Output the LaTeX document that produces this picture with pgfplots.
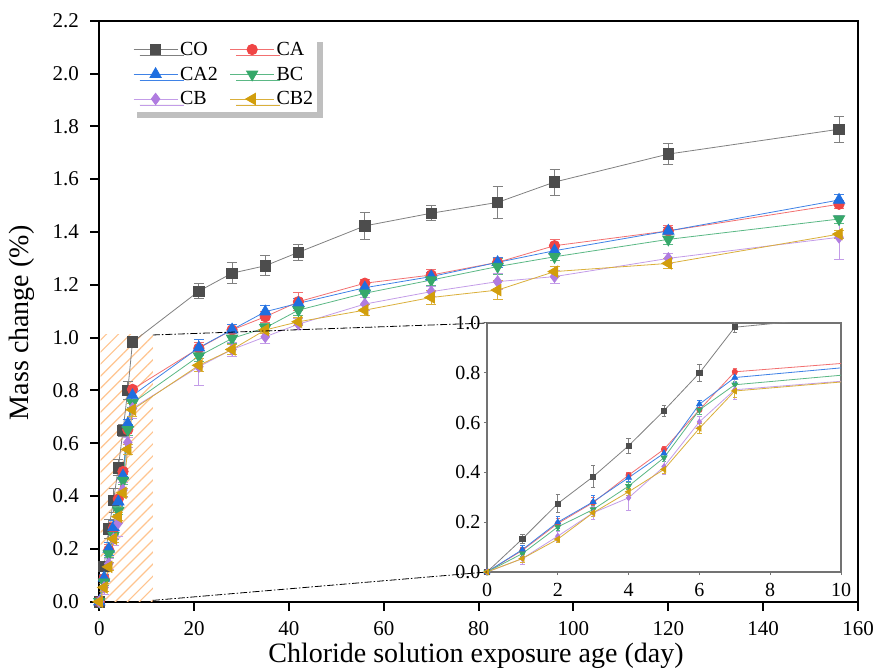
\documentclass[border=0pt]{standalone}
\usepackage{fontspec}
\setmainfont{Liberation Serif}
\usepackage{pgfplots}
\usepackage{pgfplotstable}
\pgfplotsset{compat=1.18}
\usetikzlibrary{patterns.meta,shadows}

\definecolor{colCO}{HTML}{4D4D4D}
\definecolor{colCOl}{HTML}{808080}
\definecolor{colCA}{HTML}{F04545}
\definecolor{colCAl}{HTML}{F27070}
\definecolor{colCA2}{HTML}{1F6FE0}
\definecolor{colCA2l}{HTML}{3F82E6}
\definecolor{colBC}{HTML}{36A86A}
\definecolor{colBCl}{HTML}{5BB885}
\definecolor{colCB}{HTML}{B07CE0}
\definecolor{colCBl}{HTML}{C39CE8}
\definecolor{colCB2}{HTML}{D29E0C}
\definecolor{colCB2l}{HTML}{DAAF3A}
\definecolor{hatch}{HTML}{FFC48F}

\pgfplotstableread{
x y e
0 0 0
1 0.133 0.018
2 0.275 0.035
3 0.383 0.045
4 0.507 0.030
5 0.648 0.022
6 0.799 0.035
7 0.983 0.022
21 1.176 0.028
28 1.244 0.039
35 1.272 0.038
42 1.323 0.030
56 1.423 0.050
70 1.471 0.029
84 1.512 0.060
96 1.589 0.049
120 1.695 0.039
156 1.789 0.050
}\tCO
\pgfplotstableread{
x y e
0 0 0
1 0.087 0.012
2 0.195 0.020
3 0.279 0.020
4 0.389 0.012
5 0.493 0.010
6 0.651 0.020
7 0.804 0.012
21 0.960 0.020
28 1.029 0.020
35 1.079 0.020
42 1.136 0.035
56 1.206 0.015
70 1.237 0.020
84 1.285 0.020
96 1.348 0.025
120 1.404 0.020
156 1.505 0.015
}\tCA
\pgfplotstableread{
x y e
0 0 0
1 0.090 0.015
2 0.200 0.025
3 0.282 0.025
4 0.379 0.015
5 0.477 0.015
6 0.674 0.015
7 0.781 0.020
21 0.962 0.030
28 1.030 0.020
35 1.098 0.025
42 1.130 0.020
56 1.189 0.020
70 1.231 0.015
84 1.285 0.020
96 1.329 0.015
120 1.404 0.015
156 1.521 0.020
}\tCAb
\pgfplotstableread{
x y e
0 0 0
1 0.074 0.012
2 0.181 0.015
3 0.251 0.015
4 0.345 0.015
5 0.459 0.015
6 0.651 0.020
7 0.752 0.015
21 0.930 0.020
28 0.997 0.020
35 1.037 0.015
42 1.104 0.020
56 1.168 0.015
70 1.218 0.020
84 1.269 0.030
96 1.306 0.015
120 1.372 0.020
156 1.449 0.015
}\tBC
\pgfplotstableread{
x y e
0 0 0
1 0.054 0.025
2 0.144 0.020
3 0.238 0.025
4 0.298 0.050
5 0.423 0.030
6 0.603 0.020
7 0.732 0.040
21 0.890 0.070
28 0.955 0.025
35 1.003 0.025
42 1.051 0.020
56 1.127 0.025
70 1.174 0.020
84 1.212 0.030
96 1.231 0.025
120 1.300 0.020
156 1.380 0.083
}\tCB
\pgfplotstableread{
x y e
0 0 0
1 0.054 0.015
2 0.132 0.015
3 0.238 0.015
4 0.322 0.015
5 0.412 0.015
6 0.577 0.020
7 0.727 0.025
21 0.895 0.025
28 0.955 0.020
35 1.029 0.015
42 1.060 0.015
56 1.104 0.020
70 1.152 0.025
84 1.180 0.035
96 1.250 0.020
120 1.281 0.020
156 1.392 0.015
}\tCBb

\def\capsz{5bp}
\pgfplotsset{
  ser/.style={color=#1, line width=0.8bp,
    /pgfplots/error bars/y dir=both,
    /pgfplots/error bars/y explicit,
    /pgfplots/error bars/error bar style={color=#1, line width=0.9bp},
    /pgfplots/error bars/error mark options={color=#1, line width=0.9bp, mark size=\capsz, rotate=90}},
}

\begin{document}
\begin{tikzpicture}
\begin{axis}[
  at={(0,0)}, anchor=south west,
  scale only axis, width=758.7bp, height=581bp,
  xmin=0, xmax=160, ymin=0, ymax=2.2,
  xtick={0,20,40,60,80,100,120,140,160},
  ytick={0,0.2,0.4,0.6,0.8,1.0,1.2,1.4,1.6,1.8,2.0,2.2},
  yticklabel style={xshift=-8bp, /pgf/number format/.cd, fixed, fixed zerofill, precision=1},
  xticklabel style={yshift=-7bp},
  /pgf/number format/assume math mode=true,
  tick align=outside, tick pos=left,
  major tick length=9bp,
  axis line style={line width=2bp},
  every tick/.style={black, line width=2bp},
  tick label style={font=\fontsize{21bp}{24bp}\selectfont},
  label style={font=\fontsize{28bp}{32bp}\selectfont},
  xlabel={Chloride solution exposure age (day)},
  ylabel={Mass change (\%)},
  xlabel style={at={(axis description cs:0.4965,-0.093)}, anchor=center},
  ylabel style={at={(axis description cs:-0.1015,0.48)}, anchor=center},
  every axis plot/.append style={mark size=5.2bp},
  legend columns=2,
  legend cell align=left,
  legend style={at={(axis description cs:0.0418,0.9737)}, anchor=north west,
    draw=none, fill=white,
    drop shadow={shadow xshift=6bp, shadow yshift=-6bp, fill=black!25, opacity=1},
    font=\fontsize{20bp}{24bp}\selectfont,
    inner xsep=2bp, inner ysep=4bp,
    row sep=6bp,
    /tikz/every even column/.append style={column sep=10bp}},
  legend image code/.code={\draw[#1, mark repeat=2, mark phase=2] plot coordinates {(0bp,0bp) (22bp,0bp) (44bp,0bp)};},
]
\fill[pattern={Lines[angle=45, distance=8.5bp, line width=1.2bp]}, pattern color=hatch] (axis cs:0.3,0) rectangle (axis cs:11.3,1.01);
\coordinate (r1) at (axis cs:11.3,1.01);
\coordinate (r0) at (axis cs:11.3,0.005);

\addplot[ser=colCOl, mark=square*, mark options={solid, fill=colCO, draw=colCO}] table[x=x,y=y,y error=e]{\tCO};
\addlegendentry{CO}
\addplot[ser=colCAl, mark=*, mark options={solid, fill=colCA, draw=colCA}] table[x=x,y=y,y error=e]{\tCA};
\addlegendentry{CA}
\addplot[ser=colCA2l, mark=triangle*, mark options={solid, fill=colCA2, draw=colCA2, scale=1.25}] table[x=x,y=y,y error=e]{\tCAb};
\addlegendentry{CA2}
\addplot[ser=colBCl, mark=triangle*, mark options={solid, fill=colBC, draw=colBC, rotate=180, scale=1.25}] table[x=x,y=y,y error=e]{\tBC};
\addlegendentry{BC}
\addplot[ser=colCBl, mark=diamond*, mark options={solid, fill=colCB, draw=colCB, scale=1.1}] table[x=x,y=y,y error=e]{\tCB};
\addlegendentry{CB}
\addplot[ser=colCB2l, mark=triangle*, mark options={solid, fill=colCB2, draw=colCB2, rotate=90, scale=1.25}] table[x=x,y=y,y error=e]{\tCBb};
\addlegendentry{CB2}
\end{axis}

\def\capsz{2.2bp}
\begin{axis}[
  at={(387.7bp,29.7bp)}, anchor=south west,
  scale only axis, width=354bp, height=249bp,
  xmin=0, xmax=10, ymin=0, ymax=1,
  xtick={0,2,4,6,8,10},
  ytick={0,0.2,0.4,0.6,0.8,1.0},
  yticklabel style={/pgf/number format/.cd, fixed, fixed zerofill, precision=1},
  xticklabel style={yshift=-5bp},
  /pgf/number format/assume math mode=true,
  tick align=outside, tick pos=left,
  major tick length=3bp,
  axis line style={draw=black!55, line width=1.3bp},
  every tick/.style={black!55, line width=1bp},
  axis background/.style={fill=white},
  tick label style={font=\fontsize{20bp}{24bp}\selectfont},
  every axis plot/.append style={mark size=2.6bp},
]
\coordinate (itl) at (rel axis cs:0,1);
\coordinate (ibl) at (rel axis cs:0,0);
\addplot[ser=colCOl, mark=square*, mark options={solid, fill=colCO, draw=colCO}] table[x=x,y=y,y error=e]{\tCO};
\addplot[ser=colCAl, mark=*, mark options={solid, fill=colCA, draw=colCA}] table[x=x,y=y,y error=e]{\tCA};
\addplot[ser=colCA2l, mark=triangle*, mark options={solid, fill=colCA2, draw=colCA2, scale=1.25}] table[x=x,y=y,y error=e]{\tCAb};
\addplot[ser=colBCl, mark=triangle*, mark options={solid, fill=colBC, draw=colBC, rotate=180, scale=1.25}] table[x=x,y=y,y error=e]{\tBC};
\addplot[ser=colCBl, mark=diamond*, mark options={solid, fill=colCB, draw=colCB, scale=1.1}] table[x=x,y=y,y error=e]{\tCB};
\addplot[ser=colCB2l, mark=triangle*, mark options={solid, fill=colCB2, draw=colCB2, rotate=90, scale=1.25}] table[x=x,y=y,y error=e]{\tCBb};
\end{axis}

\draw[black, line width=0.8bp, dash pattern=on 7bp off 2bp on 1.5bp off 2bp] (r1) -- (itl);
\draw[black, line width=0.8bp, dash pattern=on 7bp off 2bp on 1.5bp off 2bp] (r0) -- (ibl);

\pgfresetboundingbox
\path[use as bounding box] (-99.3bp,-67.3bp) rectangle (777.7bp,601.7bp);
\end{tikzpicture}
\end{document}
